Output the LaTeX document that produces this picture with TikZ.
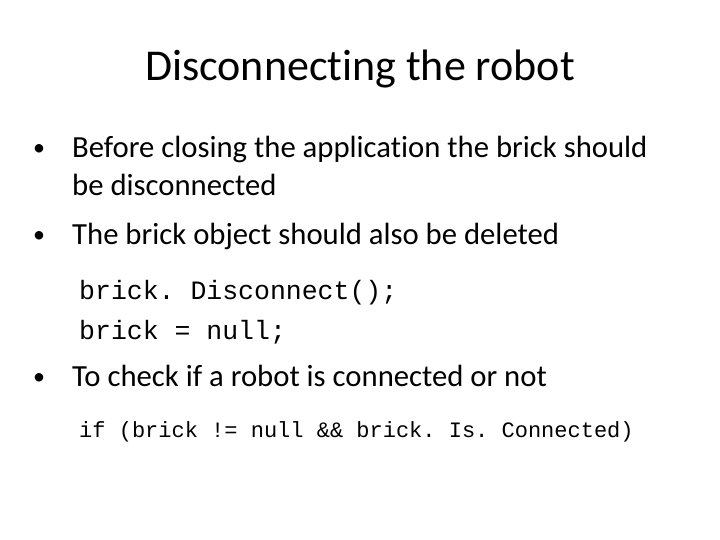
\documentclass[tikz,border=0pt]{standalone}
\usepackage{fontspec}
\setmainfont[Ligatures=NoCommon]{Carlito}
\setmonofont{Liberation Mono}
\begin{document}
\begin{tikzpicture}[x=1pt,y=-1pt,
  txt/.style={anchor=base west,inner sep=0pt,font=\fontsize{30.7}{36}\selectfont},
  bul/.style={anchor=base west,inner sep=0pt,font=\fontsize{24}{36}\selectfont},
  code/.style={anchor=base west,inner sep=0pt,font=\ttfamily\fontsize{26.5}{30}\selectfont},
  code2/.style={anchor=base west,inner sep=0pt,font=\ttfamily\fontsize{22}{26}\selectfont}]
\useasboundingbox[fill=white] (0,0) rectangle (720,540);
\node[anchor=base,inner sep=0pt,font=\fontsize{44}{50}\selectfont] (title) at (360,81) {Disconnecting the robot};
\node[bul] (b1) at (33,156) {•};
\node[txt] (t1) at (72,158) {Before closing the application the brick should};
\node[txt] (t1b) at (72,196) {be disconnected};
\node[bul] (b2) at (33,242) {•};
\node[txt] (t2) at (72,244) {The brick object should also be deleted};
\node[code] (c1) at (79,299) {brick. Disconnect();};
\node[code] (c2) at (79,339) {brick = null;};
\node[bul] (b3) at (33,384) {•};
\node[txt] (t3) at (72,386) {To check if a robot is connected or not};
\node[code2] (c3) at (79,437) {if (brick != null \&\& brick. Is. Connected)};
\end{tikzpicture}
\end{document}
